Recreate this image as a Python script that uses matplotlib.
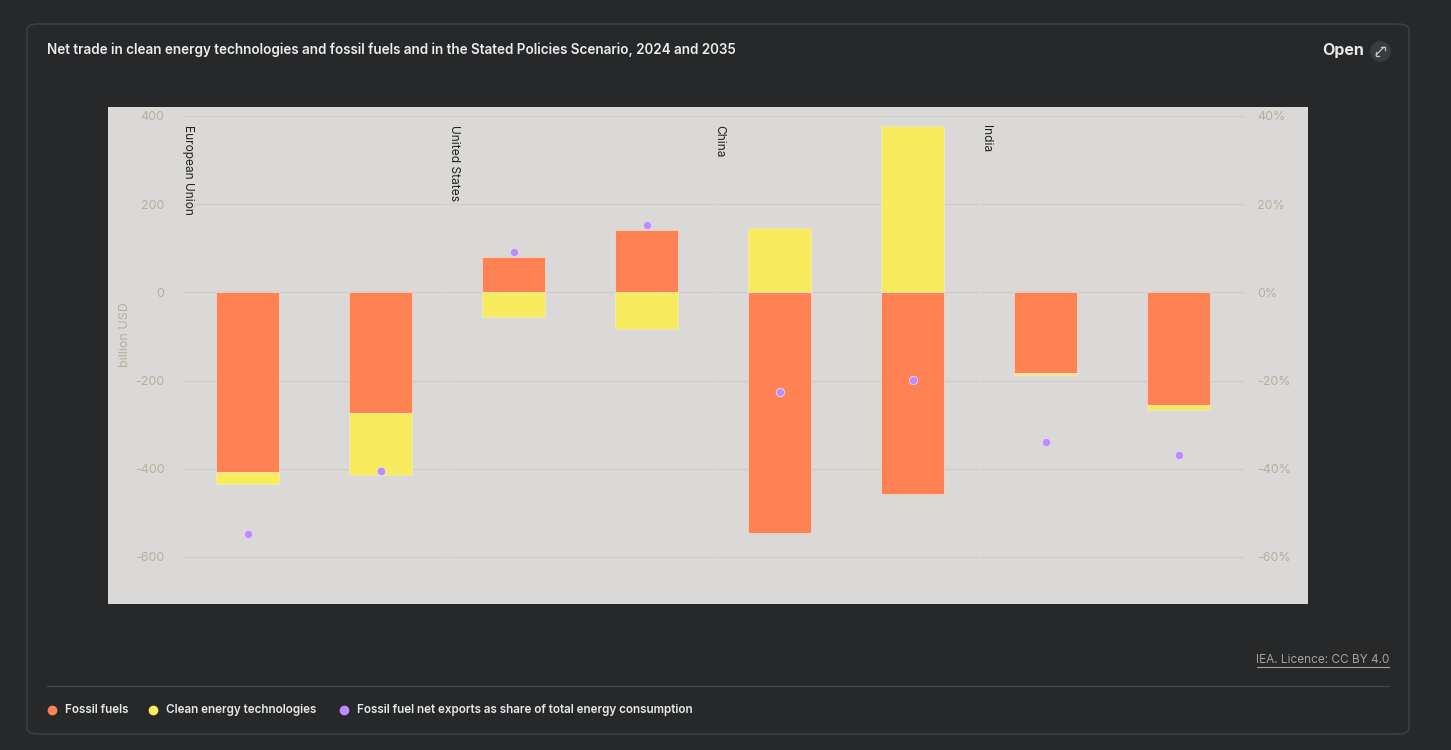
import matplotlib
matplotlib.use("Agg")
import matplotlib.pyplot as plt
from matplotlib.patches import Rectangle, FancyBboxPatch, FancyArrowPatch
from matplotlib.lines import Line2D
import numpy as np

plt.rcParams['font.family'] = ['Inter', 'DejaVu Sans']

# data
regions = ["European Union", "United States", "China", "India"]
years = ["2024", "2035"]
fossil = [-407, -273, 80, 141, -545, -457, -182, -255]
clean = [-27, -141, -57, -82, 145, 377, -5, -11]
share = [-54.8, -40.6, 9.2, 15.2, -22.7, -19.8, -33.9, -36.8]

left_ticks = [400, 200, 0, -200, -400, -600]
right_ticks = [40, 20, 0, -20, -40, -60]

C_FOSSIL = "#ff8255"
C_CLEAN = "#f8ec5e"
C_SHARE = "#b98cff"
C_BG = "#27282a"
C_PANEL = "#dad9d7"
C_TICK = "#b8ae9f"
C_GRID = "#d0cdc8"

W, H = 1451, 750
fig = plt.figure(figsize=(W / 100, H / 100), dpi=100, facecolor=C_BG)


def fx(px):
    return px / W


def fy(py):
    return 1 - py / H


# card
card = FancyBboxPatch((fx(27), fy(734)), fx(1409 - 27), (734 - 24) / H,
                      boxstyle="round,pad=0,rounding_size=0.008",
                      transform=fig.transFigure, facecolor=C_BG,
                      edgecolor="#3d3e41", linewidth=1.2, zorder=-3)
fig.add_artist(card)

# plot panel
fig.add_artist(Rectangle((fx(108), fy(604)), fx(1308 - 108), (604 - 107) / H,
                         transform=fig.transFigure, facecolor=C_PANEL,
                         edgecolor="none", zorder=-2))

ax = fig.add_axes([fx(181), fy(601), fx(1245 - 181), (601 - 116) / H])
ax.set_facecolor("none")
x = np.arange(len(fossil))
fossil = np.array(fossil)
clean = np.array(clean)

# stack: positive values stack upward, negatives downward
pos_base = np.zeros(len(x))
neg_base = np.zeros(len(x))
for vals, col in [(fossil, C_FOSSIL), (clean, C_CLEAN)]:
    base = np.where(vals >= 0, pos_base, neg_base)
    ax.bar(x, vals, bottom=base, width=0.476, color=col,
           edgecolor="#f3e9e0", linewidth=0.4, zorder=3)
    pos_base = pos_base + np.where(vals >= 0, vals, 0)
    neg_base = neg_base + np.where(vals < 0, vals, 0)

ax.set_xlim(-0.5, len(x) - 0.5)
ax.set_ylim(-700, 400)

# grid per facet, small gaps between facets
for k in range(len(regions)):
    ax.hlines(left_ticks, 2 * k - 0.5 + 0.01, 2 * k + 1.5 - 0.01,
              color=C_GRID, linewidth=0.9, zorder=1)
    ax.text(2 * k - 0.5 + 0.005, 380, regions[k], rotation=270,
            ha="left", va="top", fontsize=8.6, color="#222222", zorder=5)

ax.set_yticks(left_ticks)
ax.set_yticklabels([str(v) for v in left_ticks])
ax.set_xticks([])
ax.tick_params(axis="y", length=0, pad=12, labelsize=9, labelcolor=C_TICK)
for sp in ax.spines.values():
    sp.set_visible(False)
ax.set_ylabel("billion USD", color=C_TICK, fontsize=9)
ax.yaxis.set_label_coords(-0.047, 0.55)

ax2 = ax.twinx()
ax2.set_ylim(-70, 40)
ax2.scatter(x, share, s=36, color=C_SHARE, edgecolor="#f0d8e8",
            linewidth=0.6, zorder=6)
ax2.set_yticks(right_ticks)
ax2.set_yticklabels([f"{v}%" for v in right_ticks])
ax2.tick_params(axis="y", length=0, pad=9, labelsize=9, labelcolor=C_TICK)
for sp in ax2.spines.values():
    sp.set_visible(False)

# title and header
fig.text(fx(47), fy(50), "Net trade in clean energy technologies and fossil fuels and in the "
         "Stated Policies Scenario, 2024 and 2035", ha="left", va="center",
         fontsize=9.7, fontweight="semibold", color="#ececec")
fig.text(fx(1364), fy(50), "Open", ha="right", va="center", fontsize=11.5,
         fontweight="bold", color="#e8e8e8")
fig.add_artist(Line2D([fx(1380)], [fy(51)], marker="o", markersize=14,
                      color="#3a3b3e", linestyle="none", zorder=4))
# expand icon: small diagonal line with two corner heads
fig.add_artist(Line2D([fx(1376), fx(1384)], [fy(55), fy(47)],
                      color="#c4c4c4", linewidth=0.9, zorder=6))
for cx, cy, dx, dy in [(1384.5, 46.5, -1, 1), (1375.5, 55.5, 1, -1)]:
    fig.add_artist(Line2D([fx(cx + 3.5 * dx), fx(cx), fx(cx)],
                          [fy(cy), fy(cy), fy(cy + 3.5 * dy)],
                          color="#c4c4c4", linewidth=0.9, zorder=6))

# licence
fig.text(fx(1389), fy(660), "IEA. Licence: CC BY 4.0", ha="right", va="center",
         fontsize=8.5, color="#a8a196")
fig.add_artist(Line2D([fx(1257), fx(1389)], [fy(666.5), fy(666.5)],
                      color="#a8a196", linewidth=0.8))

# separator
fig.add_artist(Line2D([fx(47), fx(1389)], [fy(685.5), fy(685.5)],
                      color="#444548", linewidth=1))

# legend
legend_items = [("Fossil fuels", C_FOSSIL, 52),
                ("Clean energy technologies", C_CLEAN, 153),
                ("Fossil fuel net exports as share of total energy consumption", C_SHARE, 344)]
for label, col, px in legend_items:
    fig.add_artist(Line2D([fx(px)], [fy(710)], marker="o", markersize=6,
                          color=col, linestyle="none"))
    fig.text(fx(px + 13), fy(710), label, ha="left", va="center", fontsize=8.4,
             fontweight="semibold", color="#e8e8e8")

fig.savefig("out.png", dpi=100, facecolor=C_BG)
